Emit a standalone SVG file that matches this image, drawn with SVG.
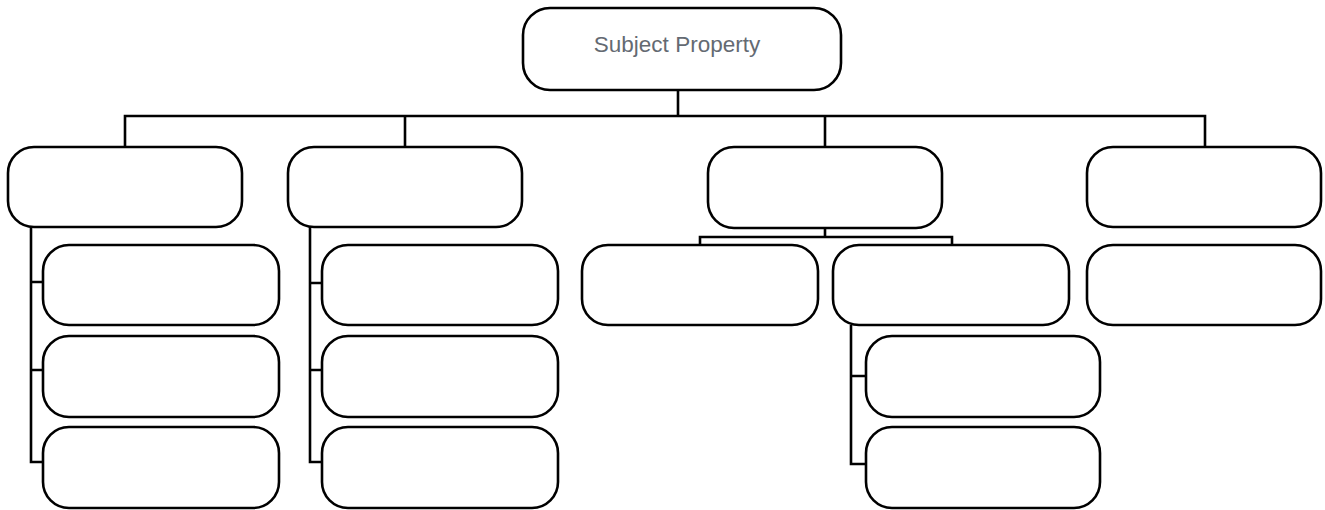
<svg xmlns="http://www.w3.org/2000/svg" width="1325" height="510" viewBox="0 0 1325 510">
  <style>
    .box { fill: #ffffff; stroke: #000000; stroke-width: 2.6; }
    .conn { fill: none; stroke: #000000; stroke-width: 2.6; stroke-linejoin: miter; }
    .label { font-family: "Liberation Sans", Arial, sans-serif; font-size: 22.5px; fill: #646a72; text-anchor: middle; }
  </style>
  <rect width="1325" height="510" fill="#ffffff"/>
  <g id="connectors">
    <path class="conn" d="M678,90 V116"/>
    <path class="conn" d="M125,147 V116 H1205 V147"/>
    <path class="conn" d="M405,116 V147"/>
    <path class="conn" d="M825,116 V147"/>
    <path class="conn" d="M31,227 V462 H43 M31,282 H43 M31,370 H43"/>
    <path class="conn" d="M310,227 V462 H322 M310,283 H322 M310,370 H322"/>
    <path class="conn" d="M825,228 V237 M700,245 V237 H952 V245"/>
    <path class="conn" d="M851,325 V464 H866 M851,376 H866"/>
  </g>
  <g id="n-root">
    <rect class="box" x="523" y="8" width="318" height="82" rx="27"/>
    <text class="label" x="677" y="52">Subject Property</text>
  </g>
  <g id="n-a"><rect class="box" x="8" y="147" width="234" height="80" rx="26"/></g>
  <g id="n-b"><rect class="box" x="288" y="147" width="234" height="80" rx="26"/></g>
  <g id="n-c"><rect class="box" x="708" y="147" width="234" height="81" rx="26"/></g>
  <g id="n-d"><rect class="box" x="1087" y="147" width="234" height="80" rx="26"/></g>
  <g id="n-a1"><rect class="box" x="43" y="245" width="236" height="80" rx="26"/></g>
  <g id="n-a2"><rect class="box" x="43" y="336" width="236" height="81" rx="26"/></g>
  <g id="n-a3"><rect class="box" x="43" y="427" width="236" height="81" rx="26"/></g>
  <g id="n-b1"><rect class="box" x="322" y="245" width="236" height="80" rx="26"/></g>
  <g id="n-b2"><rect class="box" x="322" y="336" width="236" height="81" rx="26"/></g>
  <g id="n-b3"><rect class="box" x="322" y="427" width="236" height="81" rx="26"/></g>
  <g id="n-c1"><rect class="box" x="582" y="245" width="236" height="80" rx="26"/></g>
  <g id="n-c2"><rect class="box" x="833" y="245" width="236" height="80" rx="26"/></g>
  <g id="n-c2a"><rect class="box" x="866" y="336" width="234" height="81" rx="26"/></g>
  <g id="n-c2b"><rect class="box" x="866" y="427" width="234" height="81" rx="26"/></g>
  <g id="n-d1"><rect class="box" x="1087" y="245" width="234" height="80" rx="26"/></g>
</svg>
